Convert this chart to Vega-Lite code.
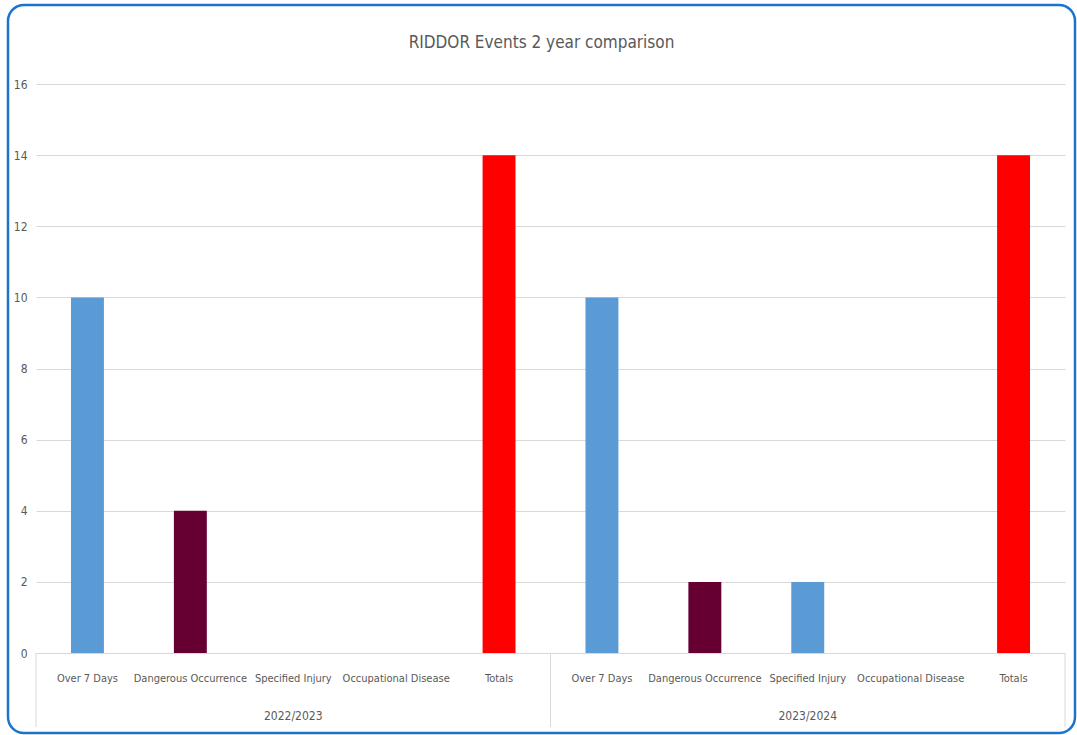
{
  "$schema": "https://vega.github.io/schema/vega-lite/v6.json",
  "width": 1067,
  "height": 728,
  "autosize": "none",
  "padding": {"left": 8, "top": 5, "right": 2, "bottom": 2},
  "background": "white",
  "title": {
    "text": "RIDDOR Events 2 year comparison",
    "font": "DejaVu Sans Condensed",
    "fontSize": 17,
    "fontWeight": "normal",
    "color": "#595959",
    "anchor": "middle",
    "baseline": "alphabetic",
    "offset": -60
  },
  "config": {
    "view": {"stroke": "#1874cd", "strokeWidth": 2.5, "cornerRadius": 16},
    "font": "DejaVu Sans Condensed"
  },
  "data": {
    "values": [
      {"key": "2022/2023|Over 7 Days", "year": "2022/2023", "category": "Over 7 Days", "value": 10},
      {"key": "2022/2023|Dangerous Occurrence", "year": "2022/2023", "category": "Dangerous Occurrence", "value": 4},
      {"key": "2022/2023|Specified Injury", "year": "2022/2023", "category": "Specified Injury", "value": 0},
      {"key": "2022/2023|Occupational Disease", "year": "2022/2023", "category": "Occupational Disease", "value": 0},
      {"key": "2022/2023|Totals", "year": "2022/2023", "category": "Totals", "value": 14},
      {"key": "2023/2024|Over 7 Days", "year": "2023/2024", "category": "Over 7 Days", "value": 10},
      {"key": "2023/2024|Dangerous Occurrence", "year": "2023/2024", "category": "Dangerous Occurrence", "value": 2},
      {"key": "2023/2024|Specified Injury", "year": "2023/2024", "category": "Specified Injury", "value": 2},
      {"key": "2023/2024|Occupational Disease", "year": "2023/2024", "category": "Occupational Disease", "value": 0},
      {"key": "2023/2024|Totals", "year": "2023/2024", "category": "Totals", "value": 14}
    ]
  },
  "layer": [
    {
      "mark": {"type": "bar", "width": {"band": 0.32}},
      "encoding": {
        "x": {
          "field": "key",
          "type": "nominal",
          "sort": null,
          "scale": {
            "domain": ["2022/2023|Over 7 Days", "2022/2023|Dangerous Occurrence", "2022/2023|Specified Injury", "2022/2023|Occupational Disease", "2022/2023|Totals", "2023/2024|Over 7 Days", "2023/2024|Dangerous Occurrence", "2023/2024|Specified Injury", "2023/2024|Occupational Disease", "2023/2024|Totals"],
            "range": [28, 1057],
            "paddingInner": 0,
            "paddingOuter": 0
          },
          "axis": {
            "title": null,
            "orient": "bottom",
            "offset": -80,
            "labelExpr": "split(datum.label, '|')[1]",
            "labelAngle": 0,
            "labelPadding": 19,
            "labelFontSize": 11,
            "labelColor": "#595959",
            "labelFont": "DejaVu Sans Condensed",
            "domainColor": "#d9d9d9",
            "domainWidth": 1,
            "ticks": false,
            "grid": false
          }
        },
        "y": {
          "field": "value",
          "type": "quantitative",
          "scale": {"domain": [0, 16], "range": [648, 79], "nice": false, "zero": true},
          "axis": {
            "title": null,
            "offset": -28,
            "values": [0, 2, 4, 6, 8, 10, 12, 14, 16],
            "domain": false,
            "ticks": false,
            "labelPadding": 9,
            "labelFontSize": 12,
            "labelColor": "#595959",
            "labelFont": "DejaVu Sans Condensed",
            "gridColor": "#d9d9d9",
            "gridWidth": 1
          }
        },
        "color": {
          "field": "category",
          "type": "nominal",
          "scale": {
            "domain": ["Over 7 Days", "Dangerous Occurrence", "Specified Injury", "Occupational Disease", "Totals"],
            "range": ["#5b9bd5", "#660033", "#5b9bd5", "#5b9bd5", "#ff0000"]
          },
          "legend": null
        }
      }
    },
    {
      "transform": [{"filter": "datum.category == 'Over 7 Days'"}],
      "mark": {"type": "rule", "color": "#d9d9d9", "strokeWidth": 1},
      "encoding": {
        "x": {"field": "key", "type": "nominal", "bandPosition": 0},
        "y": {"datum": 0},
        "y2": {"datum": -2.08}
      }
    },
    {
      "transform": [{"filter": "datum.key == '2023/2024|Totals'"}],
      "mark": {"type": "rule", "color": "#d9d9d9", "strokeWidth": 1},
      "encoding": {
        "x": {"field": "key", "type": "nominal", "bandPosition": 1},
        "y": {"datum": 0},
        "y2": {"datum": -2.08}
      }
    },
    {
      "transform": [{"filter": "datum.category == 'Specified Injury'"}],
      "mark": {"type": "text", "fontSize": 12, "color": "#595959", "font": "DejaVu Sans Condensed", "baseline": "middle"},
      "encoding": {
        "x": {"field": "key", "type": "nominal"},
        "y": {"datum": -1.77},
        "text": {"field": "year"}
      }
    }
  ]
}
